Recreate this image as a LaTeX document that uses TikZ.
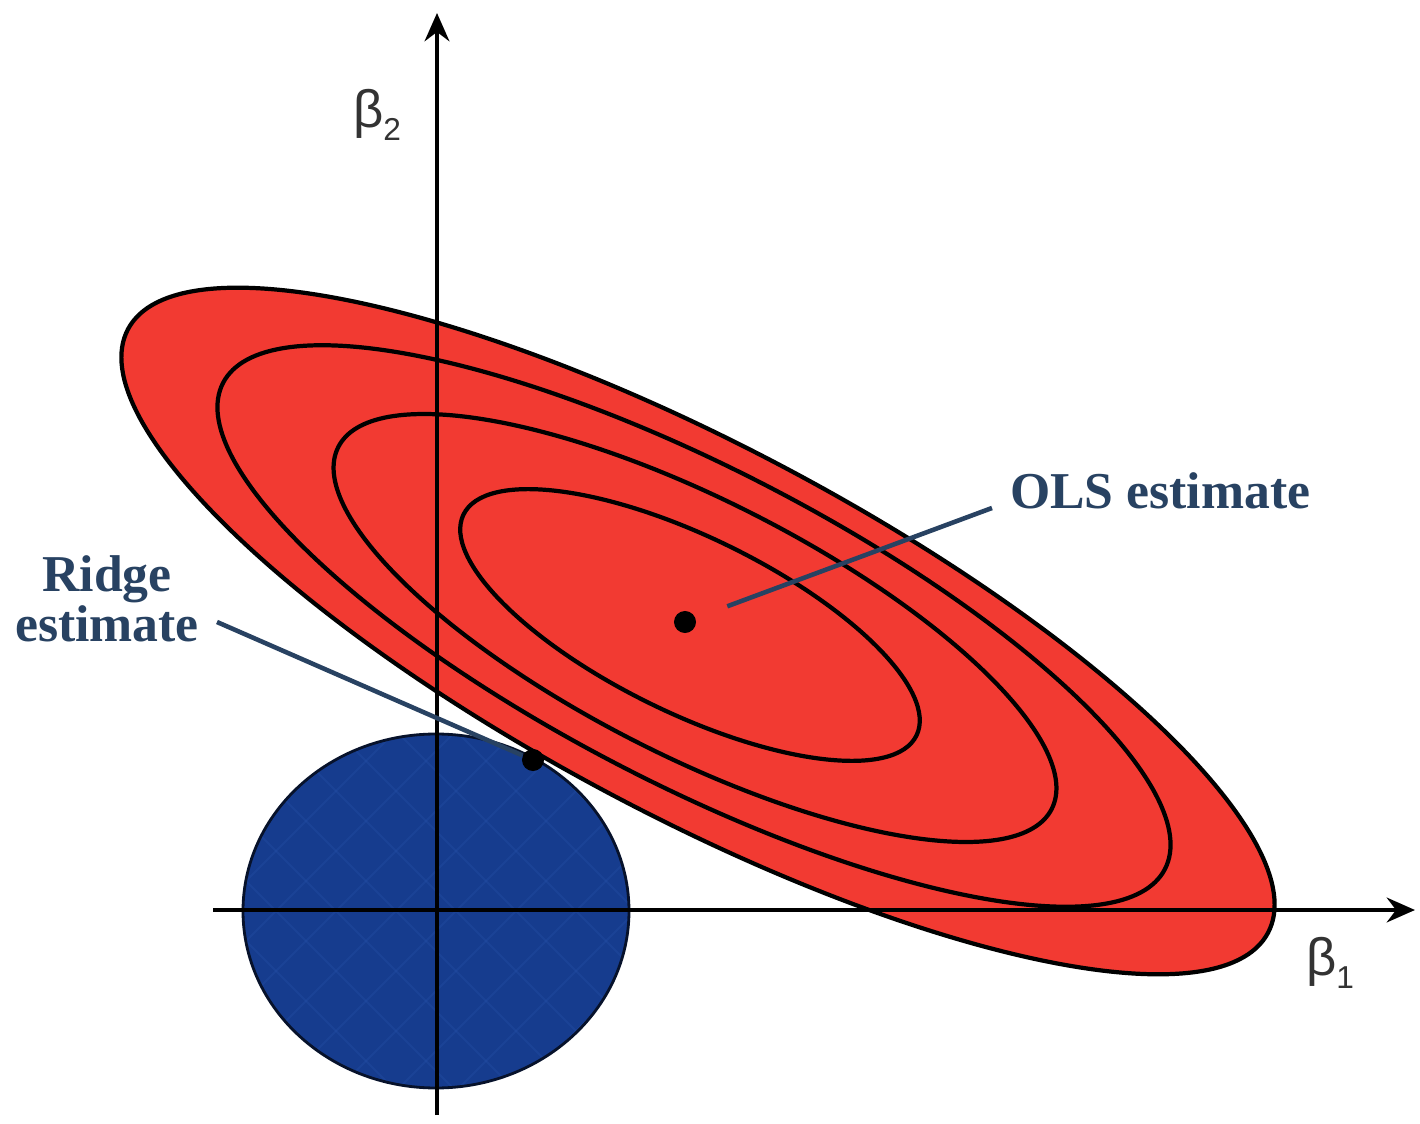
\documentclass[tikz,border=0pt]{standalone}
\usepackage{fontspec}
\setmainfont{Liberation Serif}
\newfontfamily\betafont{Liberation Sans}
\usetikzlibrary{arrows.meta}
\definecolor{ellred}{RGB}{242,58,50}
\definecolor{discblue}{RGB}{22,60,142}
\definecolor{discline}{RGB}{40,82,170}
\definecolor{labelcol}{RGB}{40,66,98}
\begin{document}
\begin{tikzpicture}[x=0.01cm,y=0.01cm,
  contour/.style={draw=black,line width=1.2pt},
  axisline/.style={draw=black,line width=1.3pt,-{Stealth[length=8pt,width=7pt]}},
  estdot/.style={circle,fill=black,inner sep=0pt,minimum size=0.22cm},
  estlabel/.style={text=labelcol,font=\fontsize{14.7}{13}\selectfont\bfseries},
  leader/.style={draw=labelcol,line width=1.3pt},
  axislabel/.style={text=black!80,font=\betafont\fontsize{15}{15}\selectfont,inner sep=0pt}]
\useasboundingbox[fill=white] (0,0) rectangle (1420,1123);

% blue constraint disc
\fill[discblue] (436,212) ellipse [x radius=193, y radius=177];
\begin{scope}
  \clip (436,212) ellipse [x radius=193, y radius=177];
  \foreach \k in {-400,-340,...,400} {
    \draw[discline,opacity=0.3,line width=0.6pt] (436+\k,212) -- ++(300,300);
    \draw[discline,opacity=0.3,line width=0.6pt] (436+\k,212) -- ++(-300,300);
    \draw[discline,opacity=0.3,line width=0.6pt] (436+\k,212) -- ++(300,-300);
    \draw[discline,opacity=0.3,line width=0.6pt] (436+\k,212) -- ++(-300,-300);
  }
\end{scope}
\draw[black!70!discblue,line width=0.8pt] (436,212) ellipse [x radius=193, y radius=177];

% red contours
\fill[ellred,rotate around={-27.9:(698,492)}] (698,492) ellipse [x radius=645, y radius=185];
\draw[contour,rotate around={-27.9:(698,492)}] (698,492) ellipse [x radius=645, y radius=185];
\draw[contour,rotate around={-27.3:(694,497)}] (694,497) ellipse [x radius=530, y radius=158];
\draw[contour,rotate around={-26.9:(695,495)}] (695,495) ellipse [x radius=400, y radius=128];
\draw[contour,rotate around={-26:(690,498)}] (690,498) ellipse [x radius=252, y radius=88];

% axes
\coordinate (xstart) at (213,213);
\coordinate (xend) at (1415,213);
\coordinate (ystart) at (437,8);
\coordinate (yend) at (437,1110);
\draw[axisline] (xstart) -- (xend);
\draw[axisline] (ystart) -- (yend);
\node[axislabel] (b1) at (1330,160) {β\raisebox{-0.45ex}{\fontsize{9}{9}\selectfont 1}};
\node[axislabel] (b2) at (377,1008) {β\raisebox{-0.45ex}{\fontsize{9}{9}\selectfont 2}};

% estimates
\node[estdot] (ols) at (685,501) {};
\node[estdot] (ridge) at (533,363) {};
\node[estlabel,anchor=base west,inner sep=5pt] (olstext) at (992,615) {OLS estimate};
\node[estlabel,align=center,inner sep=0pt,anchor=south] (ridgetext) at (107,480) {Ridge\\estimate};
\coordinate (ridgetip) at (217,501);
\draw[leader,shorten <=9.5pt] (ols) -- (olstext.base west);
\draw[leader] (ridgetip) -- (ridge);
\end{tikzpicture}
\end{document}
